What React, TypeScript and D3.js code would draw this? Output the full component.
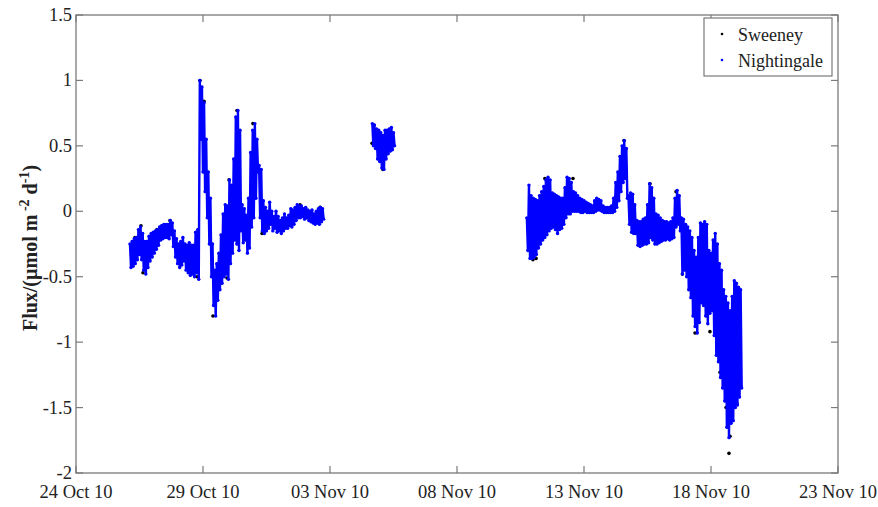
import React, { useRef, useEffect } from 'react';
import * as d3 from 'd3';

// Nightingale is logged hourly; each segment starts at the time below
const sampleStepHours = 1;
const nightingaleStarts = ['2010-10-26T03:00:00Z', '2010-11-04T16:00:00Z', '2010-11-10T18:00:00Z'];

const nightingaleOct = [
  -0.25, -0.43, -0.23, -0.42, -0.21, -0.4, -0.2, -0.37, -0.14, -0.33,
  -0.12, -0.37, -0.17, -0.45, -0.23, -0.48, -0.23, -0.43, -0.19, -0.38,
  -0.17, -0.35, -0.16, -0.32, -0.15, -0.29, -0.14, -0.26, -0.12, -0.22,
  -0.11, -0.21, -0.1, -0.2, -0.1, -0.2, -0.1, -0.21, -0.07, -0.18,
  -0.09, -0.27, -0.15, -0.35, -0.21, -0.4, -0.25, -0.43, -0.23, -0.41,
  -0.2, -0.38, -0.25, -0.45, -0.26, -0.47, -0.24, -0.49, -0.26, -0.48,
  -0.26, -0.5, -0.16, -0.47, -0.14, -0.52, 1.0, 0.55, 0.95, 0.3,
  0.83, 0.15, 0.55, -0.05, 0.3, -0.25, 0.1, -0.5, -0.25, -0.72,
  -0.45, -0.8, -0.4, -0.68, -0.32, -0.6, -0.18, -0.55, -0.02, -0.5,
  0.05, -0.48, 0.04, -0.52, 0.24, -0.4, 0.2, -0.32, 0.4, -0.22,
  0.72, -0.25, 0.77, -0.3, 0.62, -0.15, 0.05, -0.24, 0.02, -0.22,
  -0.03, -0.32, 0.1, -0.28, 0.45, -0.12, 0.62, -0.05, 0.67, 0.1,
  0.55, 0.3, 0.35, -0.05, 0.32, -0.15, 0.08, -0.17, 0.03, -0.15,
  0.0, -0.13, 0.07, -0.1, 0.0, -0.15, -0.04, -0.13, 0.0, -0.16,
  -0.04, -0.15, -0.07, -0.17, -0.05, -0.15, -0.02, -0.13, -0.05, -0.13,
  -0.03, -0.11, 0.02, -0.12, 0.01, -0.1, 0.03, -0.07, 0.05, -0.05,
  0.04, -0.05, 0.04, -0.04, 0.02, -0.06, 0.03, -0.05, 0.01, -0.07,
  0.0, -0.08, 0.01, -0.09, -0.02, -0.1, 0.0, -0.09, 0.02, -0.1,
  0.03, -0.08, 0.02, -0.06,
];

const nightingaleNov4 = [
  0.67, 0.5, 0.66, 0.48, 0.63, 0.4, 0.62, 0.38, 0.6, 0.33,
  0.58, 0.32, 0.62, 0.4, 0.62, 0.44, 0.63, 0.46, 0.64, 0.47,
  0.6, 0.5,
];

const nightingaleNov10 = [
  -0.05, -0.3, 0.2, -0.36, 0.12, -0.36, 0.1, -0.35, 0.09, -0.33,
  0.08, -0.28, 0.12, -0.25, 0.15, -0.22, 0.19, -0.2, 0.24, -0.18,
  0.26, -0.15, 0.24, -0.13, 0.14, -0.12, 0.13, -0.14, 0.12, -0.17,
  0.11, -0.14, 0.1, -0.13, 0.1, -0.1, 0.18, -0.05, 0.26, -0.02,
  0.25, -0.02, 0.22, 0.0, 0.15, 0.0, 0.14, 0.0, 0.12, 0.0,
  0.1, -0.01, 0.09, -0.01, 0.08, 0.0, 0.07, -0.01, 0.06, -0.01,
  0.05, -0.01, 0.04, -0.01, 0.08, 0.0, 0.1, 0.01, 0.09, 0.01,
  0.08, 0.0, 0.04, -0.01, 0.03, -0.01, 0.03, -0.01, 0.03, -0.01,
  0.04, -0.01, 0.1, 0.0, 0.22, 0.03, 0.3, 0.08, 0.42, 0.15,
  0.5, 0.22, 0.54, 0.25, 0.48, 0.1, 0.12, -0.1, 0.14, -0.16,
  0.13, -0.17, 0.05, -0.17, -0.07, -0.26, -0.08, -0.27, -0.08, -0.26,
  -0.06, -0.25, -0.05, -0.25, 0.05, -0.24, 0.21, -0.2, 0.18, -0.22,
  0.1, -0.25, -0.02, -0.25, -0.03, -0.24, -0.05, -0.23, -0.07, -0.22,
  -0.08, -0.22, -0.08, -0.21, -0.09, -0.22, -0.08, -0.21, -0.05, -0.2,
  0.1, -0.12, 0.16, -0.1, 0.12, -0.15, -0.05, -0.48, -0.06, -0.45,
  -0.1, -0.5, -0.12, -0.6, -0.15, -0.66, -0.2, -0.8, -0.3, -0.88,
  -0.35, -0.93, -0.2, -0.85, -0.09, -0.7, -0.1, -0.72, -0.08, -0.8,
  -0.1, -0.86, -0.3, -0.78, -0.32, -0.76, -0.22, -0.95, -0.17, -1.1,
  -0.25, -1.15, -0.4, -1.27, -0.45, -1.35, -0.6, -1.45, -0.65, -1.65,
  -0.7, -1.73, -0.76, -1.62, -0.65, -1.6, -0.53, -1.5, -0.55, -1.48,
  -0.58, -1.42, -0.6, -1.35,
];

// Sweeney: hours since 24 Oct 2010 00:00 and flux
const sweeneyHours = [
  52, 55.7, 61.4, 63.3, 76.5, 81.3, 88.8, 93.5, 114.3, 117.2,
  121, 129.4, 132.3, 142.7, 144.6, 152.1, 167.2, 175.8,
  211.7, 230.6, 279.7, 290, 431.8, 434.7, 443, 469.6, 517.8, 542.4,
  567, 573, 584.9, 599, 608.5, 611.4, 614.2, 617, 618, 619.8,
  624.6, 625.5,
];
const sweeneyFlux = [
  -0.27, -0.2, -0.11, -0.47, -0.14, -0.11, -0.07, -0.24, -0.5, 1.0,
  0.84, -0.8, -0.62, -0.51, 0.24, 0.77, 0.67, -0.17,
  0.05, 0.03, 0.52, 0.32, -0.37, -0.36, 0.25, 0.25, 0.54, 0.21,
  0.15, -0.48, -0.93, -0.92, -1.23, -1.27, -1.5, -1.85, -1.72, -1.6,
  -1.47, -1.39,
];

const xTickDates = ['2010-10-24', '2010-10-29', '2010-11-03', '2010-11-08', '2010-11-13', '2010-11-18', '2010-11-23'];
const yTicks = [-2, -1.5, -1, -0.5, 0, 0.5, 1, 1.5];
const legendLabels = ['Sweeney', 'Nightingale'];

const FONT = '"Liberation Serif", "DejaVu Serif", serif';

const App = () => {
  const chartRef = useRef<SVGSVGElement>(null);

  useEffect(() => {
    const svg = d3.select(chartRef.current);
    svg.selectAll('*').remove();

    const margin = { top: 15, right: 40, bottom: 34, left: 76 };
    const width = 878;
    const height = 507;
    const frameColor = '#7a7a7a';
    const textColor = '#222';

    const origin = Date.UTC(2010, 9, 24);
    const xScale = d3
      .scaleUtc()
      .domain([new Date(origin), new Date(Date.UTC(2010, 10, 23))])
      .range([margin.left, width - margin.right]);
    const yScale = d3.scaleLinear().domain([-2, 1.5]).range([height - margin.bottom, margin.top]);

    const [x0, x1] = xScale.range();
    const [y0, y1] = yScale.range();

    // plot box
    svg
      .append('rect')
      .attr('x', x0)
      .attr('y', y1)
      .attr('width', x1 - x0)
      .attr('height', y0 - y1)
      .style('fill', 'white')
      .style('stroke', frameColor)
      .style('stroke-width', 1.3);

    const tickLen = 7;
    const xTicks = xTickDates.map((s) => new Date(s + 'T00:00:00Z'));
    const tickFmt = d3.utcFormat('%d %b %y');

    const ticks = svg.append('g').style('stroke', frameColor).style('stroke-width', 1.2);
    xTicks.forEach((d) => {
      const px = xScale(d);
      ticks.append('line').attr('x1', px).attr('x2', px).attr('y1', y0).attr('y2', y0 - tickLen);
      ticks.append('line').attr('x1', px).attr('x2', px).attr('y1', y1).attr('y2', y1 + tickLen);
    });
    yTicks.forEach((v) => {
      const py = yScale(v);
      ticks.append('line').attr('x1', x0).attr('x2', x0 + tickLen).attr('y1', py).attr('y2', py);
      ticks.append('line').attr('x1', x1).attr('x2', x1 - tickLen).attr('y1', py).attr('y2', py);
    });

    svg
      .append('g')
      .selectAll('text')
      .data(xTicks)
      .join('text')
      .attr('x', (d) => xScale(d))
      .attr('y', y0 + 25)
      .attr('text-anchor', 'middle')
      .attr('font-family', FONT)
      .style('font-size', '18.5px')
      .style('fill', textColor)
      .text((d) => tickFmt(d));

    svg
      .append('g')
      .selectAll('text')
      .data(yTicks)
      .join('text')
      .attr('x', x0 - 4)
      .attr('y', (d) => yScale(d) + 6)
      .attr('text-anchor', 'end')
      .attr('font-family', FONT)
      .style('font-size', '18.5px')
      .style('fill', textColor)
      .text((d) => String(d));

    // y axis label
    const yl = svg
      .append('text')
      .attr('transform', `translate(37,${(y0 + y1) / 2 + 4}) rotate(-90)`)
      .attr('text-anchor', 'middle')
      .attr('font-family', FONT)
      .style('font-size', '20px')
      .style('font-weight', 'bold')
      .style('fill', textColor);
    yl.append('tspan').text('Flux/(µmol m');
    yl.append('tspan').attr('dy', -8).style('font-size', '14px').text(' -2');
    yl.append('tspan').attr('dy', 8).text(' d');
    yl.append('tspan').attr('dy', -8).style('font-size', '14px').text('-1');
    yl.append('tspan').attr('dy', 8).text(')');

    // Sweeney points
    const sweeney = sweeneyHours.map((h, i) => ({ t: new Date(origin + h * 3600e3), v: sweeneyFlux[i] }));
    svg
      .append('g')
      .selectAll('circle')
      .data(sweeney)
      .join('circle')
      .attr('cx', (d) => xScale(d.t))
      .attr('cy', (d) => yScale(d.v))
      .attr('r', 1.8)
      .style('fill', 'black');

    // Nightingale points, dense enough to form a band
    const segments = [nightingaleOct, nightingaleNov4, nightingaleNov10].map((vals, s) => {
      const start = new Date(nightingaleStarts[s]).getTime();
      return vals.map((v, i) => ({ t: new Date(start + i * sampleStepHours * 3600e3), v }));
    });
    const line = d3
      .line<{ t: Date; v: number }>()
      .x((d) => xScale(d.t))
      .y((d) => yScale(d.v));
    const ng = svg.append('g');
    segments.forEach((seg) => {
      ng.append('path')
        .datum(seg)
        .attr('d', line)
        .style('fill', 'none')
        .style('stroke', '#0000ff')
        .style('stroke-width', 2.4)
        .style('stroke-linejoin', 'round');
      ng.append('g')
        .selectAll('circle')
        .data(seg)
        .join('circle')
        .attr('cx', (d) => xScale(d.t))
        .attr('cy', (d) => yScale(d.v))
        .attr('r', 1.7)
        .style('fill', '#0000ff');
    });

    // legend
    const lg = svg.append('g').attr('transform', 'translate(704,18)');
    lg.append('rect')
      .attr('width', 128)
      .attr('height', 58)
      .style('fill', 'white')
      .style('stroke', frameColor)
      .style('stroke-width', 1.2);
    legendLabels.forEach((label, i) => {
      lg.append('circle')
        .attr('cx', 18)
        .attr('cy', 16 + i * 26)
        .attr('r', 1.3)
        .style('fill', i === 0 ? 'black' : '#0000ff');
      lg.append('text')
        .attr('x', 34)
        .attr('y', 23 + i * 26)
        .attr('font-family', FONT)
        .style('font-size', '18px')
        .style('fill', textColor)
        .text(label);
    });
  }, []);

  return (
    <>
      <style>{'body{margin:0}'}</style>
      <svg ref={chartRef} width={878} height={507} style={{ display: 'block', background: 'white' }}></svg>
    </>
  );
};

export default App;
